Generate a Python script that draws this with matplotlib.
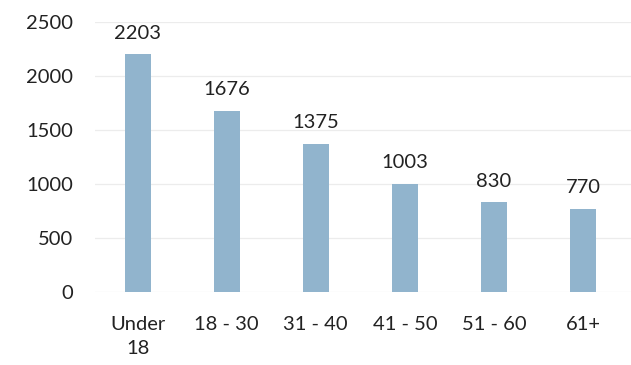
import matplotlib
matplotlib.use("Agg")
import matplotlib.pyplot as plt

# respondents per age band
age_bands = ["Under\n18", "18 - 30", "31 - 40", "41 - 50", "51 - 60", "61+"]
counts = [2203, 1676, 1375, 1003, 830, 770]
y_ticks = [0, 500, 1000, 1500, 2000, 2500]

BAR = "#91b4cd"
GRID = "#ececec"
TEXT = "#222222"

plt.rcParams["font.family"] = ["Lato", "DejaVu Sans"]

fig = plt.figure(figsize=(6.31, 3.65), dpi=100)
ax = fig.add_axes([95 / 631, 73 / 365, 536 / 631, 270 / 365])

x = list(range(len(age_bands)))
ax.bar(x, counts, width=0.29, color=BAR, zorder=2)

for xi, v in zip(x, counts):
    ax.annotate(str(v), (xi, v), xytext=(0, 9), textcoords="offset points",
                ha="center", va="bottom", fontsize=14.5, color=TEXT)

ax.set_xlim(-0.48, 5.54)
ax.set_ylim(0, 2500)
ax.set_yticks(y_ticks)
ax.set_xticks(x)
ax.set_xticklabels(age_bands, linespacing=1.55)
ax.tick_params(axis="y", length=0, pad=16, labelsize=14.5, labelcolor=TEXT)
ax.tick_params(axis="x", length=0, pad=17, labelsize=14.5, labelcolor=TEXT)
ax.grid(axis="y", color=GRID, linewidth=0.9, zorder=0)
for s in ax.spines.values():
    s.set_visible(False)

fig.savefig("out.png", dpi=100)
